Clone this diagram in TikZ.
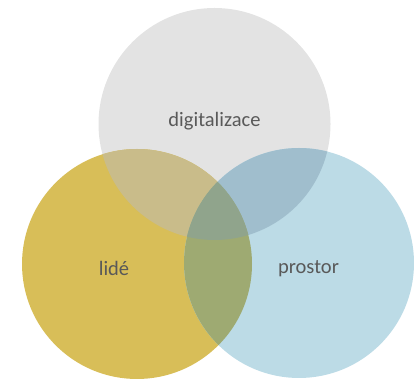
\documentclass[tikz,border=0pt]{standalone}
\usepackage{fontspec}
\setmainfont{Carlito}

\definecolor{digGray}{RGB}{227,227,227}
\definecolor{lidGold}{RGB}{216,190,88}
\definecolor{proBlue}{RGB}{188,219,230}
\definecolor{digLid}{RGB}{201,188,138}
\definecolor{digPro}{RGB}{160,190,205}
\definecolor{lidPro}{RGB}{158,170,114}
\definecolor{allThree}{RGB}{144,164,140}
\definecolor{txtGray}{RGB}{89,89,89}

\begin{document}
\begin{tikzpicture}[x=1pt,y=1pt,
    lbl/.style={font=\fontsize{20.5}{24}\selectfont,text=txtGray,inner sep=0pt}]

    \useasboundingbox (0,0) rectangle (414,379);

    %%%%%%%%%%%%%%%%%%%%%%%%%%%%%%%%%%%%%%%%%%%%%%%%%%%%%%

    % circle centres
    \coordinate (cDig) at (214.5,255);
    \coordinate (cLid) at (137,115);
    \coordinate (cPro) at (299,116);

    % plain circles
    \fill[digGray] (cDig) circle (116pt);
    \fill[lidGold] (cLid) circle (115pt);
    \fill[proBlue] (cPro) circle (115pt);

    %%%%%%%%%%%%%%%%%%%%%%%%%%%%%%%%%%%%%%%%%%%%%%%%%%%%%%

    % digitalizace & lide
    \begin{scope}
        \clip (cDig) circle (116pt);
        \fill[digLid] (cLid) circle (115pt);
    \end{scope}

    % digitalizace & prostor
    \begin{scope}
        \clip (cDig) circle (116pt);
        \fill[digPro] (cPro) circle (115pt);
    \end{scope}

    % lide & prostor
    \begin{scope}
        \clip (cLid) circle (115pt);
        \fill[lidPro] (cPro) circle (115pt);
    \end{scope}

    % all three
    \begin{scope}
        \clip (cDig) circle (116pt);
        \clip (cLid) circle (115pt);
        \fill[allThree] (cPro) circle (115pt);
    \end{scope}

    %%%%%%%%%%%%%%%%%%%%%%%%%%%%%%%%%%%%%%%%%%%%%%%%%%%%%%

    % labels
    \node[lbl] (digi) at (214.5,258) {digitalizace};
    \node[lbl] (lide) at (114,111) {lidé};
    \node[lbl] (pros) at (308.5,110) {prostor};

\end{tikzpicture}
\end{document}
